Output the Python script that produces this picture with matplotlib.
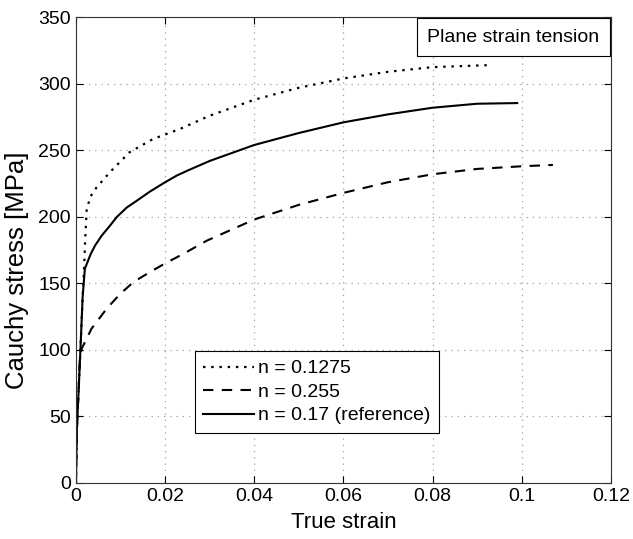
import matplotlib
matplotlib.use("Agg")
import matplotlib.pyplot as plt

plt.rcParams['font.family'] = ['Liberation Sans', 'DejaVu Sans']

# n = 0.1275 (dotted)
strain_lo = [0, 0.0002, 0.0006, 0.001, 0.0015, 0.0018, 0.0021, 0.0024, 0.0032, 0.0046,
             0.0076, 0.012, 0.0173, 0.0233, 0.03, 0.04, 0.05, 0.06, 0.07, 0.08, 0.0925]
stress_lo = [0, 40, 70, 100, 140, 160, 185, 205, 215, 222,
             233.5, 248.5, 258.5, 266, 276, 288, 297, 304, 309, 312.5, 314]

# n = 0.255 (dashed)
strain_hi = [0, 0.0002, 0.0006, 0.0009, 0.0013, 0.0035, 0.0069, 0.0099, 0.0129, 0.0166,
             0.02, 0.024, 0.0293, 0.04, 0.05, 0.06, 0.07, 0.08, 0.09, 0.1, 0.107]
stress_hi = [0, 40, 70, 95, 101, 116, 131, 142, 151, 158.5,
             165, 172, 182, 198, 209, 218, 226, 232, 236, 238, 239]

# n = 0.17 reference (solid)
strain_ref = [0, 0.0002, 0.0006, 0.001, 0.0015, 0.002, 0.0033, 0.0043, 0.0058, 0.0073,
              0.0092, 0.0114, 0.0136, 0.0166, 0.02, 0.0226, 0.0252, 0.03, 0.04, 0.05,
              0.06, 0.07, 0.08, 0.09, 0.099]
stress_ref = [0, 40, 70, 100, 140, 161, 172, 178.5, 186, 192,
              200, 207, 212, 219, 226, 231, 235, 242, 254, 263,
              271, 277, 282, 285, 285.5]

labels = ["n = 0.1275", "n = 0.255", "n = 0.17 (reference)"]
xticks = [0, 0.02, 0.04, 0.06, 0.08, 0.1, 0.12]
xticklabels = ["0", "0.02", "0.04", "0.06", "0.08", "0.1", "0.12"]
yticks = [0, 50, 100, 150, 200, 250, 300, 350]

fig = plt.figure(figsize=(6.33, 5.39), dpi=100)
ax = fig.add_axes([0.120, 0.104, 0.845, 0.864])

ax.plot(strain_lo, stress_lo, color='black', lw=1.6, linestyle=(0, (1.1, 2.6)), label=labels[0])
ax.plot(strain_hi, stress_hi, color='black', lw=1.5, linestyle=(0, (5, 4)), label=labels[1])
ax.plot(strain_ref, stress_ref, color='black', lw=1.5, linestyle='-', label=labels[2])

ax.set_xlim(0, 0.12)
ax.set_ylim(0, 350)
ax.set_xticks(xticks)
ax.set_xticklabels(xticklabels)
ax.set_yticks(yticks)
ax.tick_params(direction='in', top=True, right=True, length=5, labelsize=14, width=0.8)
ax.grid(True, color='#a0a0a0', linestyle=(0, (1, 4)), lw=0.9)
for s in ax.spines.values():
    s.set_linewidth(0.8)
    s.set_color('#333333')

ax.set_xlabel("True strain", fontsize=16, labelpad=5)
ax.set_ylabel("Cauchy stress [MPa]", fontsize=18.5)
ax.yaxis.set_label_coords(-0.088, 0.457)

leg = ax.legend(loc='lower left', bbox_to_anchor=(0.222, 0.107), fontsize=14,
                fancybox=False, edgecolor='black', framealpha=1, handlelength=2.6,
                handletextpad=0.2, borderpad=0.45, labelspacing=0.3, borderaxespad=0)
leg.get_frame().set_linewidth(0.8)

pad_frac = 0.55
ax.annotate("Plane strain tension", xy=(1, 1), xycoords='axes fraction',
            xytext=(-pad_frac * 14 - 0.5, -pad_frac * 14 - 0.5), textcoords='offset points',
            ha='right', va='top', fontsize=14,
            bbox=dict(boxstyle='square,pad=%g' % pad_frac, fc='white', ec='black', lw=0.8))

fig.savefig("out.png", dpi=100)
